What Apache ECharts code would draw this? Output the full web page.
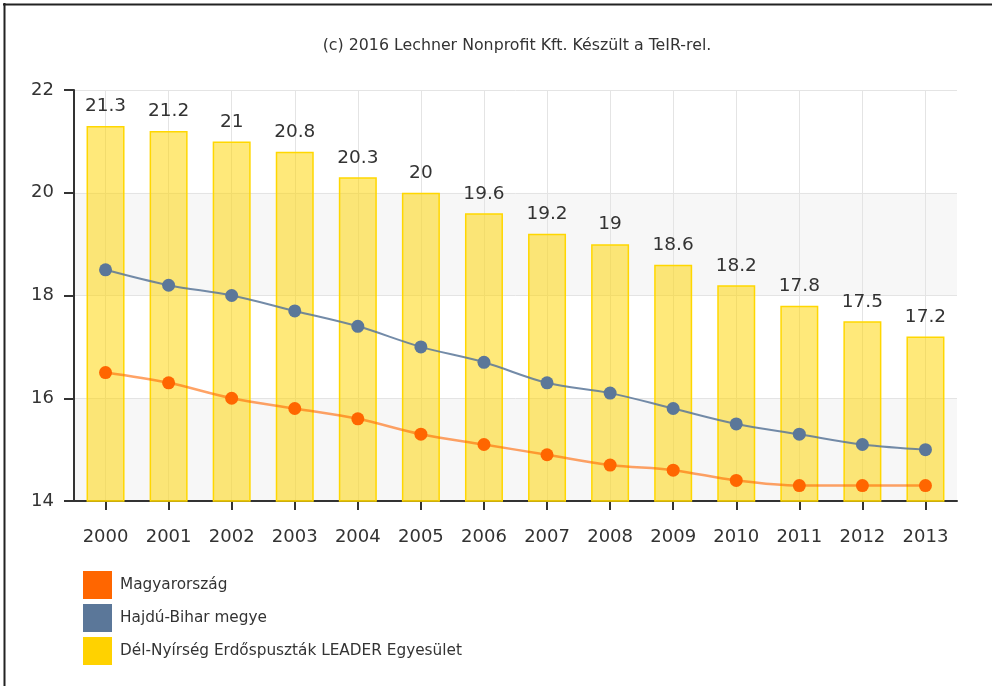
<!DOCTYPE html>
<html>
<head>
<meta charset="utf-8">
<script src="https://cdn.jsdelivr.net/npm/echarts@6/dist/echarts.min.js"></script>
<style>
html,body{margin:0;padding:0;background:#fff;}
#main{width:992px;height:686px;}
</style>
</head>
<body>
<div id="main"></div>
<script>
const years = ['2000','2001','2002','2003','2004','2005','2006','2007','2008','2009','2010','2011','2012','2013'];
const leader = [21.3,21.2,21,20.8,20.3,20,19.6,19.2,19,18.6,18.2,17.8,17.5,17.2];
const hajdu = [18.5,18.2,18.0,17.7,17.4,17.0,16.7,16.3,16.1,15.8,15.5,15.3,15.1,15.0];
const magyar = [16.5,16.3,16.0,15.8,15.6,15.3,15.1,14.9,14.7,14.6,14.4,14.3,14.3,14.3];
const yTicks = {min:14, max:22, interval:2};
const names = ['Magyarország','Hajdú-Bihar megye','Dél-Nyírség Erdőspuszták LEADER Egyesület'];
const titleText = '(c) 2016 Lechner Nonprofit Kft. Készült a TeIR-rel.';

const FONT = 'DejaVu Sans';
const chart = echarts.init(document.getElementById('main'), null, {renderer:'canvas'});
chart.setOption({
  animation:false,
  textStyle:{fontFamily:FONT},
  title:{text:titleText, left:512, textAlign:'center', top:33,
    textStyle:{fontFamily:FONT, fontSize:15.8, fontWeight:'normal', color:'#333'}},
  grid:{left:74, right:35, top:90, bottom:185, containLabel:false},
  legend:{orient:'vertical', left:83, top:571, padding:0, itemWidth:29, itemHeight:28, itemGap:5,
    icon:'rect', selectedMode:false,
    textStyle:{fontFamily:FONT, fontSize:15.3, color:'#333', padding:[0,0,0,3]},
    data:[
      {name:names[0], itemStyle:{color:'#FF6600', borderWidth:0}},
      {name:names[1], itemStyle:{color:'#5B7799', borderWidth:0}},
      {name:names[2], itemStyle:{color:'#FFD200', borderWidth:0}}
    ]},
  xAxis:{type:'category', data:years, boundaryGap:true,
    axisLine:{show:true, lineStyle:{color:'#333', width:2}},
    axisTick:{show:true, alignWithLabel:true, length:9, lineStyle:{color:'#333', width:2}},
    axisLabel:{fontFamily:FONT, fontSize:18, color:'#333', margin:27},
    splitLine:{show:true, alignWithLabel:true, lineStyle:{color:'#e4e4e4', width:1}}
  },
  yAxis:{type:'value', min:yTicks.min, max:yTicks.max, interval:yTicks.interval,
    axisLine:{show:true, lineStyle:{color:'#333', width:2}},
    axisTick:{show:true, length:10, lineStyle:{color:'#333', width:2}},
    axisLabel:{fontFamily:FONT, fontSize:18, color:'#333', margin:20},
    splitLine:{show:true, lineStyle:{color:'#e4e4e4', width:1}},
    splitArea:{show:true, areaStyle:{color:['#f7f7f7','#ffffff']}}
  },
  series:[
    {name:names[2], type:'bar', data:leader, barWidth:38, z:1,
      itemStyle:{color:'rgba(255,213,0,0.52)', borderColor:'#FFD700', borderWidth:1.5},
      label:{show:true, position:'top', distance:10, fontFamily:FONT, fontSize:18.5, color:'#333'}},
    {name:names[1], type:'line', data:hajdu, smooth:0.35, symbol:'circle', symbolSize:13, z:3,
      itemStyle:{color:'#5B7799'}, lineStyle:{color:'rgba(91,119,153,0.85)', width:2}},
    {name:names[0], type:'line', data:magyar, smooth:0.35, symbol:'circle', symbolSize:13, z:4,
      itemStyle:{color:'#FF6600'}, lineStyle:{color:'rgba(255,102,0,0.6)', width:2.5}}
  ],
  graphic:[
    {type:'line', shape:{x1:3, y1:4.5, x2:992, y2:4.5}, style:{stroke:'#222', lineWidth:2}},
    {type:'line', shape:{x1:4.5, y1:3, x2:4.5, y2:686}, style:{stroke:'#222', lineWidth:2}}
  ]
});
</script>
</body>
</html>
